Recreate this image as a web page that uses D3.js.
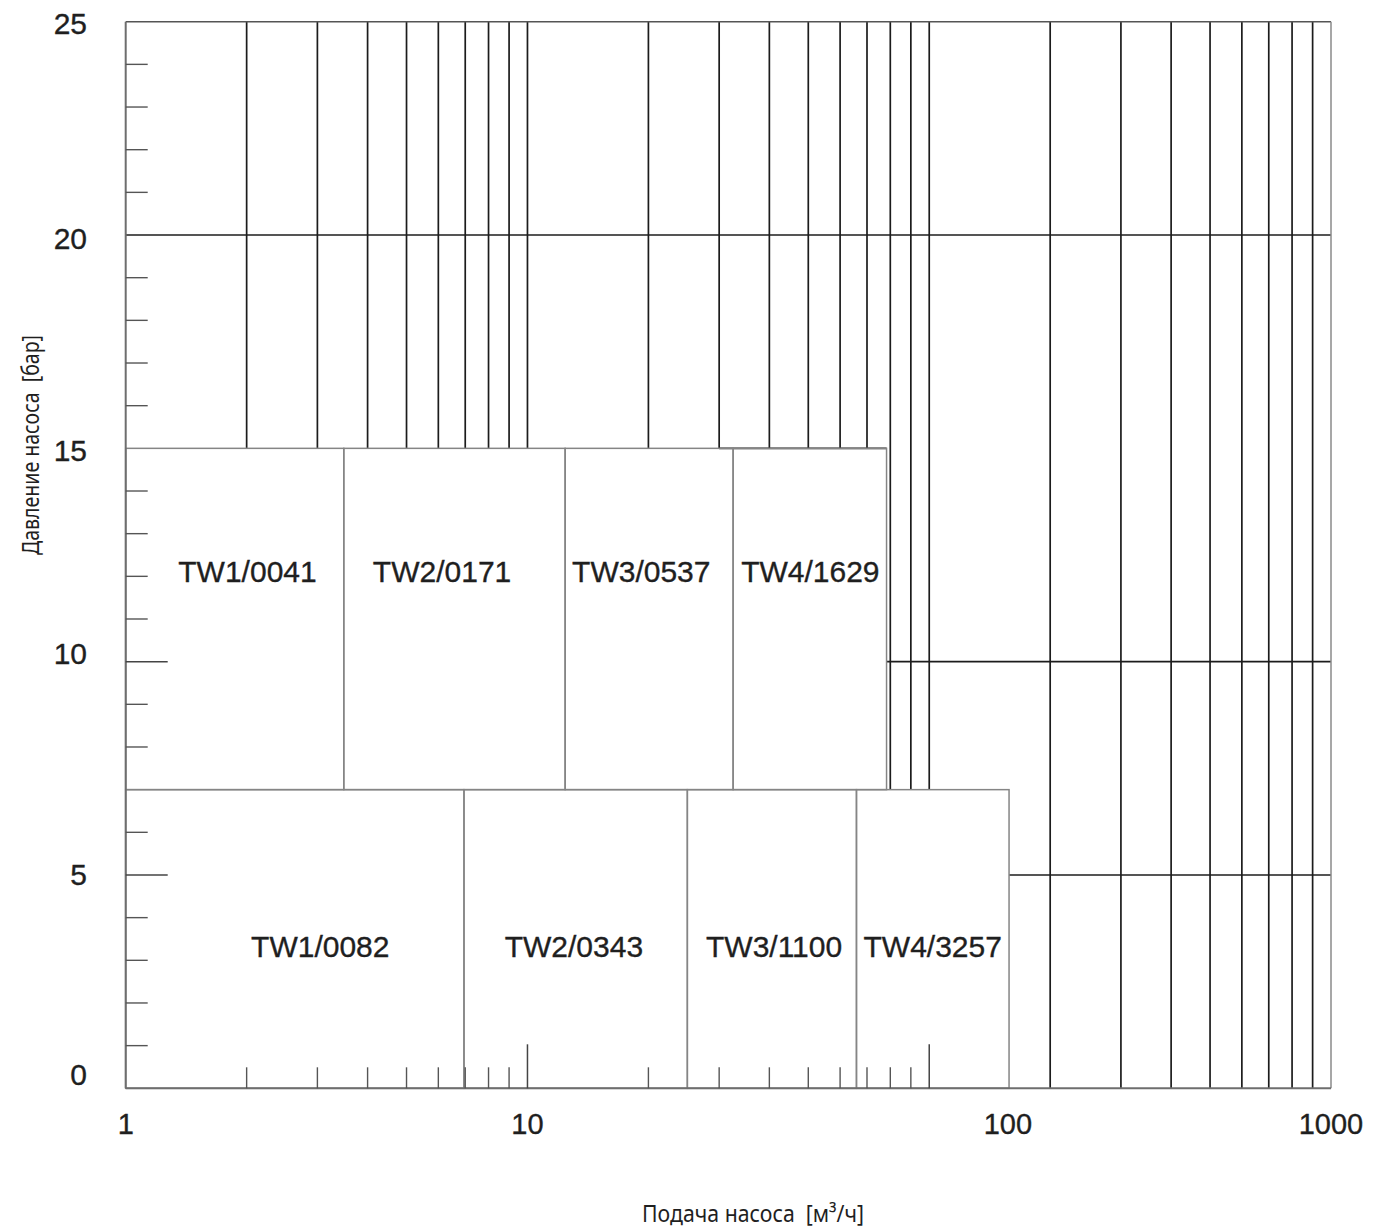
<!DOCTYPE html>
<html>
<head>
<meta charset="utf-8">
<script src="https://cdn.jsdelivr.net/npm/d3@7/dist/d3.min.js"></script>
<style>
  html, body { margin: 0; padding: 0; background: #ffffff; }
  svg { display: block; }
</style>
</head>
<body>
<svg id="chart" width="1378" height="1229"></svg>
<script>
// ---------------- data ----------------
// Pump flow (m3/h) on a log axis, pump pressure (bar) on a linear axis
const flowDomain = [1, 1000];
const pressureDomain = [0, 25];

// Upper row of pump ranges (7..15 bar)
const upperNames = ["TW1/0041", "TW2/0171", "TW3/0537", "TW4/1629"];
const upperEdges = [1, 3.49, 12.41, 32.5, 78.3];
const upperPressure = [7, 15];
const upperLabelFlow = [2.01, 6.13, 19.2, 50.6];
const upperLabelPressure = 12.13;

// Lower row of pump ranges (0..7 bar)
const lowerNames = ["TW1/0082", "TW2/0343", "TW3/1100", "TW4/3257"];
const lowerEdges = [1, 6.95, 25.0, 65.9, 158];
const lowerPressure = [0, 7];
const lowerLabelFlow = [3.05, 13.05, 41.1, 102];
const lowerLabelPressure = 3.34;

// Log grid: vertical lines and the pressure range each one spans
const gridTopFlows = [2, 3, 4, 5, 6, 7, 8, 9, 10, 20, 30, 40, 50, 60, 70]; // 15..25 bar
const gridMidFlows = [80, 90, 100];                                       // 7..25 bar
const gridFullFlows = [200, 300, 400, 500, 600, 700, 800, 900];           // 0..25 bar

// Horizontal grid lines: pressure, flow from, flow to
const gridH = [
  [20, 1, 1000],
  [15, 30, 78.3],
  [10, 78.3, 1000],
  [5, 158, 1000]
];

// Axis tick marks
const xMinorTicks = [2, 3, 4, 5, 6, 7, 8, 9, 20, 30, 40, 50, 60, 70, 80, 90];
const xMajorTicks = [10, 100];
const yMinorTicks = [1, 2, 3, 4, 6, 8, 9, 11, 12, 13, 14, 16, 17, 18, 19, 21, 22, 23, 24];
const yMajorTicks = [5, 10];

// Tick labels (as printed)
const xTickLabels = ["1", "10", "100", "1000"];
const xTickLabelFlow = [1, 10, 157, 1000];
const yTickLabels = ["0", "5", "10", "15", "20", "25"];
const yTickLabelPressure = [0.32, 5.01, 10.2, 14.96, 19.93, 24.97];

const xTitle = "Подача насоса  [м³/ч]";
const yTitle = "Давление насоса  [бар]";

// ---------------- drawing ----------------
const svg = d3.select("#chart");
const x = d3.scaleLog().domain(flowDomain).range([125.7, 1331]);
const y = d3.scaleLinear().domain(pressureDomain).range([1088.3, 21.7]);

const gridColor = "#1c1c1c", gridW = 1.7;
const boxColor = "#858585", boxW = 1.5;
const axisColor = "#6e6e6e";
const textColor = "#1f1f1f";

svg.append("rect").attr("width", 1378).attr("height", 1229).attr("fill", "#fff");

const g = svg.append("g");

// vertical grid lines
function vLines(flows, p0, p1) {
  g.selectAll(null).data(flows).enter().append("line")
    .attr("x1", d => x(d)).attr("x2", d => x(d))
    .attr("y1", y(p0)).attr("y2", y(p1))
    .attr("stroke", gridColor).attr("stroke-width", gridW);
}
vLines(gridTopFlows, 15, 25);
vLines(gridMidFlows, 7, 25);
vLines(gridFullFlows, 0, 25);

// horizontal grid lines
g.selectAll(null).data(gridH).enter().append("line")
  .attr("x1", d => x(d[1])).attr("x2", d => x(d[2]))
  .attr("y1", d => y(d[0])).attr("y2", d => y(d[0]))
  .attr("stroke", gridColor).attr("stroke-width", gridW);

// pump range boxes
function boxes(names, edges, pr, labelFlow, labelP) {
  const data = names.map((n, i) => ({ n, x0: edges[i], x1: edges[i + 1], lf: labelFlow[i] }));
  g.selectAll(null).data(data).enter().append("rect")
    .attr("x", d => x(d.x0)).attr("width", d => x(d.x1) - x(d.x0))
    .attr("y", y(pr[1])).attr("height", y(pr[0]) - y(pr[1]))
    .attr("fill", "none").attr("stroke", boxColor).attr("stroke-width", boxW);
  g.selectAll(null).data(data).enter().append("text")
    .attr("x", d => x(d.lf)).attr("y", y(labelP)).attr("dy", "0.36em")
    .attr("text-anchor", "middle")
    .attr("font-family", "'Liberation Sans', Arial, Helvetica, sans-serif")
    .attr("font-size", 30).attr("fill", textColor)
    .attr("stroke", textColor).attr("stroke-width", 0.35)
    .text(d => d.n);
}
boxes(upperNames, upperEdges, upperPressure, upperLabelFlow, upperLabelPressure);
boxes(lowerNames, lowerEdges, lowerPressure, lowerLabelFlow, lowerLabelPressure);

// frame: top and right (thin), left and bottom axes
g.append("line").attr("x1", x(1)).attr("x2", x(1000)).attr("y1", y(25)).attr("y2", y(25))
  .attr("stroke", "#555").attr("stroke-width", 1.6);
g.append("line").attr("x1", x(1000)).attr("x2", x(1000)).attr("y1", y(0)).attr("y2", y(25))
  .attr("stroke", "#8a8a8a").attr("stroke-width", 1.5);
g.append("line").attr("x1", x(1)).attr("x2", x(1)).attr("y1", y(0)).attr("y2", y(25))
  .attr("stroke", axisColor).attr("stroke-width", 2);
g.append("line").attr("x1", x(1)).attr("x2", x(1000)).attr("y1", y(0)).attr("y2", y(0))
  .attr("stroke", axisColor).attr("stroke-width", 2);

// x tick marks (inside, pointing up)
g.selectAll(null).data(xMinorTicks).enter().append("line")
  .attr("x1", d => x(d)).attr("x2", d => x(d))
  .attr("y1", y(0)).attr("y2", y(0) - 21)
  .attr("stroke", "#555").attr("stroke-width", 1.4);
g.selectAll(null).data(xMajorTicks).enter().append("line")
  .attr("x1", d => x(d)).attr("x2", d => x(d))
  .attr("y1", y(0)).attr("y2", y(0) - 44)
  .attr("stroke", "#444").attr("stroke-width", 1.5);

// y tick marks (inside, pointing right)
g.selectAll(null).data(yMinorTicks).enter().append("line")
  .attr("x1", x(1)).attr("x2", x(1) + 22)
  .attr("y1", d => y(d)).attr("y2", d => y(d))
  .attr("stroke", "#555").attr("stroke-width", 1.4);
g.selectAll(null).data(yMajorTicks).enter().append("line")
  .attr("x1", x(1)).attr("x2", x(1) + 42)
  .attr("y1", d => y(d)).attr("y2", d => y(d))
  .attr("stroke", "#444").attr("stroke-width", 1.5);

// tick labels
const tickFont = "'Liberation Sans', Arial, Helvetica, sans-serif";
g.selectAll(null).data(xTickLabels).enter().append("text")
  .attr("x", (d, i) => x(xTickLabelFlow[i]))
  .attr("y", 1124).attr("dy", "0.36em")
  .attr("text-anchor", "middle")
  .attr("font-family", tickFont).attr("font-size", 29).attr("fill", textColor)
  .attr("stroke", textColor).attr("stroke-width", 0.35)
  .text(d => d);
g.selectAll(null).data(yTickLabels).enter().append("text")
  .attr("x", 87)
  .attr("y", (d, i) => y(yTickLabelPressure[i])).attr("dy", "0.36em")
  .attr("text-anchor", "end")
  .attr("font-family", tickFont).attr("font-size", 30).attr("fill", textColor)
  .attr("stroke", textColor).attr("stroke-width", 0.35)
  .text(d => d);

// axis titles
const titleFont = "'Noto Sans', 'Open Sans', sans-serif";
svg.append("text")
  .attr("x", 753).attr("y", 1222)
  .attr("text-anchor", "middle")
  .attr("font-family", titleFont).attr("font-size", 24).attr("fill", textColor)
  .attr("textLength", 222).attr("lengthAdjust", "spacingAndGlyphs")
  .style("white-space", "pre")
  .text(xTitle);
svg.append("text")
  .attr("transform", "translate(39,445) rotate(-90)")
  .attr("text-anchor", "middle")
  .attr("font-family", titleFont).attr("font-size", 24).attr("fill", textColor)
  .attr("textLength", 220).attr("lengthAdjust", "spacingAndGlyphs")
  .style("white-space", "pre")
  .text(yTitle);
</script>
</body>
</html>
